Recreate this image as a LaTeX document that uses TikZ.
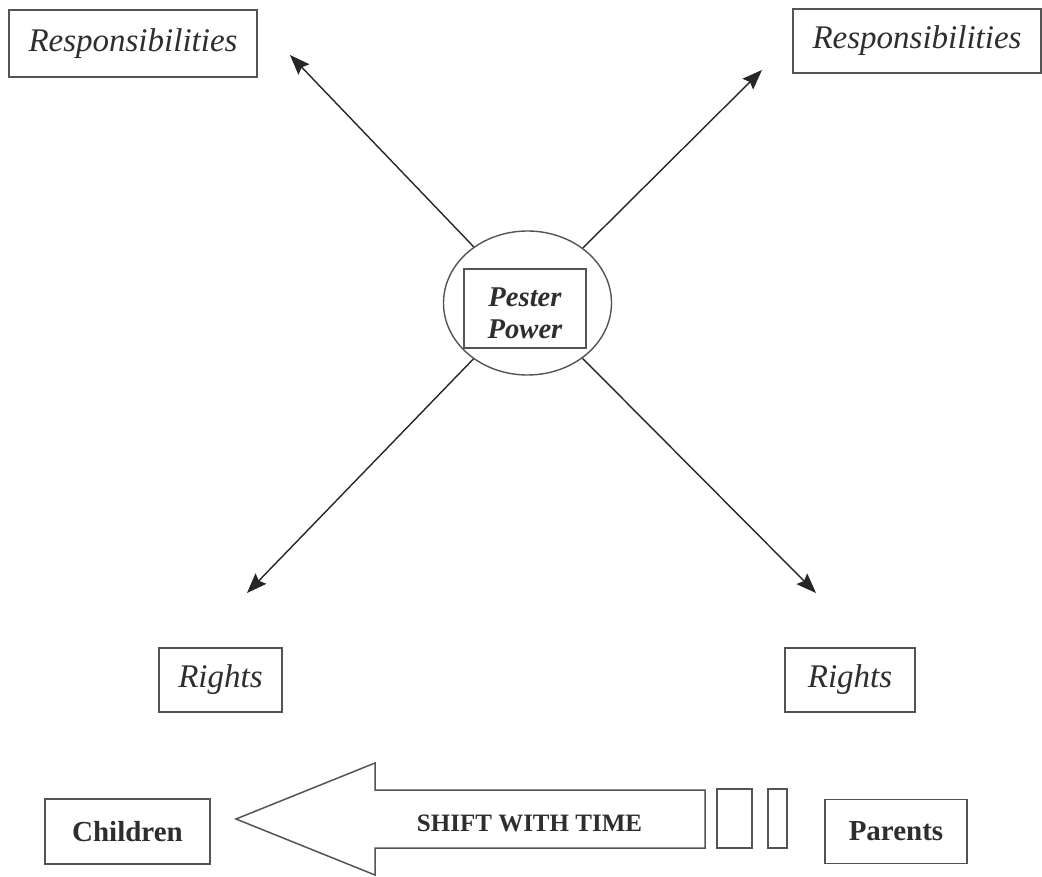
\documentclass[tikz,border=0pt]{standalone}
\usepackage{fontspec}
\setmainfont{Liberation Serif}
\usetikzlibrary{shapes.geometric,arrows.meta}
\definecolor{lc}{gray}{0.33}
\definecolor{tc}{gray}{0.18}
\begin{document}
\begin{tikzpicture}[x=1pt,y=-1pt,
  box/.style={draw=lc, line width=1.6pt, inner sep=0pt, text=tc},
  ital/.style={font=\fontsize{33}{40}\selectfont\itshape},
  bold/.style={font=\fontsize{29}{34}\selectfont\bfseries},
  arr/.style={draw=black!85, line width=1.4pt, -{Stealth[length=20pt,width=15pt,inset=3pt]}}]
\useasboundingbox[fill=white] (0,0) rectangle (1042,877);

% top boxes
\node[box, ital, minimum width=248pt, minimum height=67pt] (r1) at (133,43.5) {Responsibilities};
\node[box, ital, minimum width=248pt, minimum height=64pt] (r2) at (917,41) {Responsibilities};

% centre
\node[draw=lc, line width=1.4pt, ellipse, minimum width=168pt, minimum height=144pt] (pp) at (527.5,303) {};
\node[box, minimum width=122pt, minimum height=79pt] (ppt) at (525,308.5) {};
\node[align=center, inner sep=0pt, text=tc,
  font=\fontsize{28.6}{32}\selectfont\bfseries\itshape] (pptx) at (525,313) {Pester\\Power};

% arrow tips
\coordinate (t1) at (290,55);
\coordinate (t2) at (762,70);
\coordinate (t3) at (247,593);
\coordinate (t4) at (816,593);
\draw[arr] (pp) -- (t1);
\draw[arr] (pp) -- (t2);
\draw[arr] (pp) -- (t3);
\draw[arr] (pp) -- (t4);

% rights
\node[box, ital, minimum width=123pt, minimum height=64pt] (g1) at (220.5,680) {Rights};
\node[box, ital, minimum width=130pt, minimum height=64pt] (g2) at (850,680) {Rights};

% bottom row
\node[box, bold, minimum width=165pt, minimum height=65pt] (ch) at (127.5,831.5) {Children};
\node[box, bold, minimum width=142pt, minimum height=64pt] (pa) at (896,831.5) {Parents};
\draw[draw=lc, line width=1.5pt, fill=white, line join=miter]
  (705,790) -- (375,790) -- (375,763) -- (236,819) -- (375,875) -- (375,848) -- (705,848) -- cycle;
\node[font=\fontsize{25}{30}\selectfont\bfseries, text=tc] (sw) at (529.5,823.5) {SHIFT WITH TIME};
\node[box, minimum width=35pt, minimum height=59pt] (s1) at (734.5,818.5) {};
\node[box, minimum width=19pt, minimum height=59pt] (s2) at (777.5,818.5) {};
\end{tikzpicture}
\end{document}
